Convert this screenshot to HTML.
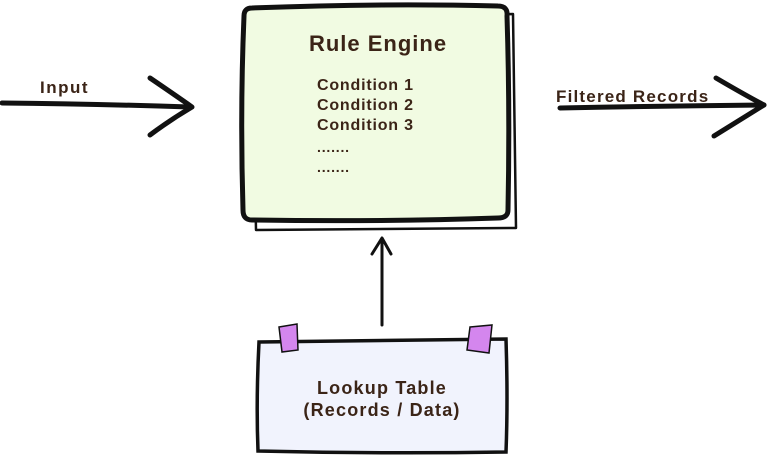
<!DOCTYPE html>
<html><head><style>
body{margin:0;background:#fff;width:768px;height:456px;overflow:hidden}
svg text{font-family:"Liberation Sans",sans-serif;fill:#3b2417;font-weight:bold}
</style></head><body>
<svg width="768" height="456" viewBox="0 0 768 456">
<rect x="0" y="0" width="768" height="456" fill="#fff"/>
<path d="M252 20 L513 14 L516 228 L256 230 Z" fill="none" stroke="#111" stroke-width="2.5" stroke-linejoin="round"/>
<path d="M252 8 Q380 3 498 6 Q508 6 507 16 Q510 110 508 210 Q508 218 498 218 Q380 222 252 220 Q243 220 243 210 Q240 110 244 16 Q244 8 252 8 Z" fill="#f1fbe2" stroke="#111" stroke-width="5" stroke-linejoin="round"/>
<text x="378" y="51" font-size="22" text-anchor="middle" letter-spacing="1">Rule Engine</text>
<text x="317" y="90" font-size="16" letter-spacing="0.8">Condition 1</text>
<text x="317" y="110" font-size="16" letter-spacing="0.8">Condition 2</text>
<text x="317" y="130" font-size="16" letter-spacing="0.8">Condition 3</text>
<text x="317" y="152" font-size="14" letter-spacing="0.8">.......</text>
<text x="317" y="172" font-size="14" letter-spacing="0.8">.......</text>
<path d="M2 103 Q100 104 190 107" fill="none" stroke="#111" stroke-width="5" stroke-linecap="round"/>
<path d="M150 78 Q175 95 192 107 Q170 120 150 135" fill="none" stroke="#111" stroke-width="5" stroke-linecap="round" stroke-linejoin="round"/>
<text x="40" y="93" font-size="17" letter-spacing="1.5">Input</text>
<path d="M560 108 Q660 106 764 105" fill="none" stroke="#111" stroke-width="5" stroke-linecap="round"/>
<path d="M716 78 Q745 95 764 105 Q740 120 714 136" fill="none" stroke="#111" stroke-width="5" stroke-linecap="round" stroke-linejoin="round"/>
<text x="556" y="102" font-size="17" letter-spacing="1.2">Filtered Records</text>
<path d="M382 325 L382 240" fill="none" stroke="#111" stroke-width="3" stroke-linecap="round"/>
<path d="M372 254 L382 238 L391 254" fill="none" stroke="#111" stroke-width="3" stroke-linecap="round" stroke-linejoin="round"/>
<path d="M259 342 Q380 340 506 339 Q508 400 506 452 Q380 454 258 451 Q256 400 259 342 Z" fill="#f1f3fd" stroke="#111" stroke-width="3.5"/>
<path d="M279 327 L297 324 L298 350 L282 352 Z" fill="#d486ee" stroke="#111" stroke-width="1.5"/>
<path d="M470 327 L492 325 L489 353 L467 350 Z" fill="#d486ee" stroke="#111" stroke-width="1.5"/>
<text x="382" y="394" font-size="18" text-anchor="middle" letter-spacing="1.2">Lookup Table</text>
<text x="382" y="416" font-size="18" text-anchor="middle" letter-spacing="1.2">(Records / Data)</text>
</svg>
</body></html>
